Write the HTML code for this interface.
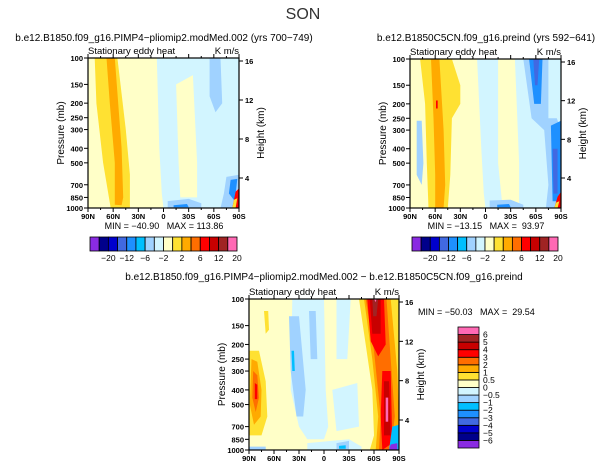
<!DOCTYPE html>
<html><head><meta charset="utf-8"><style>
html,body{margin:0;padding:0;background:#fff}
svg{display:block;font-family:"Liberation Sans",sans-serif}
text{white-space:pre}
</style></head><body>
<svg id="fig" width="607" height="468" viewBox="0 0 607 468" xmlns="http://www.w3.org/2000/svg">
<text x="303" y="19" font-size="16" text-anchor="middle" fill="#333">SON</text>
</svg>
<script>
// ---- data ----
const colors=["#8a2be2","#00008b","#0000cd","#4169e1","#1e90ff","#00bfff","#a0d2ff","#d2f5ff","#ffffc8","#ffe132","#ffaa00","#ff6e00","#ff0000","#c80000","#a02323","#ff69b4"];
const topLevelLabels=["−20","−12","−6","−2","2","6","12","20"];
const diffLevelLabels=["−6","−5","−4","−3","−2","−1","−0.5","0","0.5","1","2","3","4","5","6"];
const pressureTicks=[100,150,200,250,300,400,500,700,850,1000];
const heightTicks=[4,8,12,16];
const latTicks=[90,60,30,0,-30,-60,-90];
const latLabels=["90N","60N","30N","0","30S","60S","90S"];
// shapes: [colorIndex, [[lat,p],...]]
const shapesA=[
 [8,[[90,100],[8,100],[5,400],[2,800],[0,1000],[90,1000]]],
 [8,[[-15,150],[-35,130],[-40,500],[-40,850],[-20,850],[-18,500]]],
 [9,[[82,100],[55,100],[45,300],[40,600],[40,1000],[63,1000],[72,500],[80,200]]],
 [10,[[68,100],[58,100],[50,400],[48,850],[50,960],[58,950],[58,500],[64,200]]],
 [6,[[-55,100],[-68,100],[-70,200],[-62,230],[-55,180]]],
 [6,[[-5,900],[-30,870],[-45,930],[-45,1000],[-5,1000]]],
 [4,[[-12,960],[-28,940],[-30,990],[-12,990]]],
 [6,[[-75,620],[-90,600],[-90,1000],[-68,1000],[-72,800]]],
 [4,[[-80,650],[-88,640],[-85,900],[-78,800]]],
 [12,[[-86,780],[-90,740],[-90,1000],[-82,1000]]],
 [9,[[-84,880],[-88,860],[-86,1000],[-82,1000]]]
];
const shapesB=[
 [8,[[90,100],[10,100],[5,400],[2,800],[0,1000],[90,1000]]],
 [8,[[-15,100],[-35,100],[-40,500],[-40,950],[-20,950],[-15,500]]],
 [9,[[78,100],[40,100],[30,150],[30,200],[40,250],[42,600],[45,1000],[68,1000],[70,500],[72,200]]],
 [10,[[65,100],[55,100],[50,300],[48,700],[50,1000],[60,1000],[60,600],[62,250]]],
 [12,[[59,190],[57,190],[57,215],[59,215]]],
 [6,[[82,260],[76,260],[74,500],[76,700],[82,600]]],
 [6,[[-45,100],[-75,100],[-75,250],[-85,250],[-90,300],[-90,1000],[-72,1000],[-75,700],[-70,300],[-55,250]]],
 [4,[[-52,100],[-68,100],[-66,200],[-58,200]]],
 [3,[[-57,100],[-64,100],[-62,150],[-59,150]]],
 [4,[[-78,280],[-90,260],[-90,900],[-80,900]]],
 [3,[[-80,400],[-86,400],[-86,800],[-81,800]]],
 [6,[[-5,890],[-30,880],[-45,950],[-45,1000],[-5,1000]]],
 [4,[[-14,950],[-28,940],[-30,990],[-14,990]]],
 [12,[[-86,840],[-90,780],[-90,1000],[-82,1000]]],
 [9,[[-84,920],[-88,900],[-86,1000],[-82,1000]]]
];
const shapesC=[
 [7,[[38,100],[0,100],[-2,400],[-5,700],[0,850],[20,850],[30,700],[40,400]]],
 [7,[[-10,400],[-40,360],[-42,700],[-15,750]]],
 [7,[[-15,100],[-32,100],[-28,250],[-15,250]]],
 [6,[[42,130],[30,130],[22,400],[25,600],[33,600],[40,300]]],
 [6,[[18,120],[10,120],[8,250],[16,250]]],
 [5,[[39,220],[36,220],[35,300],[38,300]]],
 [7,[[20,900],[-30,850],[-45,950],[-45,1000],[20,1000]]],
 [6,[[-15,900],[-30,870],[-30,990],[-15,990]]],
 [5,[[-18,940],[-26,930],[-26,980],[-18,980]]],
 [6,[[90,950],[70,950],[70,1000],[90,1000]]],
 [9,[[72,120],[67,120],[66,160],[70,170]]],
 [9,[[90,220],[78,220],[70,350],[68,600],[75,800],[90,800]]],
 [10,[[87,250],[80,260],[75,400],[76,600],[84,680],[89,500]]],
 [11,[[85,300],[80,320],[78,450],[82,560],[86,450]]],
 [12,[[83,360],[80,370],[80,460],[83,460]]],
 [9,[[-42,100],[-90,100],[-90,1000],[-55,1000],[-60,800],[-58,400],[-50,200]]],
 [10,[[-48,100],[-80,100],[-88,300],[-90,600],[-90,1000],[-62,1000],[-65,600],[-58,250]]],
 [11,[[-50,100],[-75,100],[-80,250],[-85,600],[-80,1000],[-66,1000],[-68,600],[-60,220]]],
 [12,[[-52,100],[-72,100],[-74,200],[-65,240],[-56,190]]],
 [12,[[-70,300],[-80,300],[-82,900],[-70,1000],[-68,600]]],
 [13,[[-55,100],[-68,100],[-68,170],[-58,170]]],
 [13,[[-72,350],[-78,350],[-80,800],[-72,800]]],
 [14,[[-58,100],[-65,100],[-63,130],[-59,130]]],
 [15,[[-60,100],[-63,100],[-62,105]]],
 [15,[[-74,450],[-77,450],[-77,650],[-74,650]]],
 [5,[[-82,700],[-90,680],[-90,1000],[-78,1000]]],
 [0,[[-80,920],[-88,900],[-88,1000],[-78,1000]]]
];
// ---- rendering ----
const NS="http://www.w3.org/2000/svg";
const svg=document.getElementById('fig');
function mk(tag,attrs,parent){const e=document.createElementNS(NS,tag);for(const k in attrs)e.setAttribute(k,attrs[k]);(parent||svg).appendChild(e);return e;}
function txt(s,x,y,size,anchor,parent,extra){const t=mk('text',Object.assign({x:x,y:y,'font-size':size,'text-anchor':anchor||'start',fill:'#000'},extra||{}),parent);t.textContent=s;return t;}

function panel(name,L,T,W,H,shapes,bg){
 const g=mk('g',{});
 
 
 const xs=lat=>L+(90-lat)/180*W;
 const ys=p=>T+H-Math.log10(1000/p)*H;
 const zs=z=>T+3+(16-z)/12*((H-30)-3);
 const r=mk('rect',{x:L,y:T,width:W,height:H,fill:colors[bg]},g);
 
 
 const clip='c'+name;
 const cp=mk('clipPath',{id:clip},g);mk('rect',{x:L,y:T,width:W,height:H},cp);
 const sg=mk('g',{'clip-path':'url(#'+clip+')'},g);
 shapes.forEach(s=>{
  const pts=s[1].map(q=>xs(q[0]).toFixed(1)+','+ys(q[1]).toFixed(1)).join(' ');
  const pg=mk('polygon',{points:pts,fill:colors[s[0]],'stroke-linejoin':'round'},sg);
  
  
 });
 mk('rect',{x:L,y:T,width:W,height:H,fill:'none',stroke:'#000','stroke-width':1.2},g);
 pressureTicks.forEach(p=>{const y=ys(p);mk('line',{x1:L-4,x2:L,y1:y,y2:y,stroke:'#000'},g);
  const t=txt(String(p),L-5,y+3,7.5,'end',g,{'font-weight':'bold'});
  });
 heightTicks.forEach(z=>{const y=zs(z);mk('line',{x1:L+W,x2:L+W+4,y1:y,y2:y,stroke:'#000'},g);
  const t=txt(String(z),L+W+6,y+3,7.5,'start',g,{'font-weight':'bold'});
  });
 for(let lat=90;lat>=-90;lat-=15){const x=xs(lat);const major=lat%30===0;
  mk('line',{x1:x,x2:x,y1:T+H,y2:T+H+(major?4:2),stroke:'#000'},g);
  mk('line',{x1:x,x2:x,y1:T,y2:T-(major?4:2),stroke:'#000'},g);}
 latTicks.forEach((lat,i)=>{const t=txt(latLabels[i],xs(lat),T+H+11,7.5,'middle',g,{'font-weight':'bold'});
  });
 const yl=txt('Pressure (mb)',0,0,10,'middle',g,{transform:'translate('+(L-24)+','+(T+H/2)+') rotate(-90)'});
 
 const yr=txt('Height (km)',0,0,10,'middle',g,{transform:'translate('+(L+W+25)+','+(T+H/2)+') rotate(-90)'});
 
 const s1=txt('Stationary eddy heat',L,T-4,9.5,'start',g);
 
 const s2=txt('K m/s',L+W,T-4,9.5,'end',g);
 
}
function hbar(name,L,T,W,H,labels){
 const g=mk('g',{});
 
 
 const n=colors.length,bw=W/n;
 colors.forEach((c,i)=>{const b=mk('rect',{x:L+i*bw,y:T,width:bw,height:H,fill:c,stroke:'#000','stroke-width':0.8},g);
  });
 labels.forEach((s,i)=>{const t=txt(s,L+(2*i+2)*bw,T+H+10,8.5,'middle',g);
  });
}
function vbar(name,L,T,W,H,labels){
 const g=mk('g',{});
 
 
 const n=colors.length,bh=H/n;
 colors.forEach((c,i)=>{const b=mk('rect',{x:L,y:T+(n-1-i)*bh,width:W,height:bh,fill:c,stroke:'#000','stroke-width':0.8},g);
  });
 labels.forEach((s,i)=>{const t=txt(s,L+W+4,T+H-(i+1)*bh+3,8.5,'start',g);
  });
}
panel('panel-pimp4',88,58,151,150,shapesA,7);
panel('panel-preind',410,59,151,149,shapesB,7);
panel('panel-difference',249,299,150,151,shapesC,8);
hbar('colorbar-top-left',90,237,147,14,topLevelLabels);
hbar('colorbar-top-right',412,237,146,14,topLevelLabels);
vbar('colorbar-difference',458,327,21,121,diffLevelLabels);
const T1=txt('b.e12.B1850.f09_g16.PIMP4−pliomip2.modMed.002 (yrs 700−749)',164,41,10,'middle');

const T2=txt('b.e12.B1850C5CN.f09_g16.preind (yrs 592−641)',486,41,10,'middle');

const T3=txt('b.e12.B1850.f09_g16.PIMP4−pliomip2.modMed.002 − b.e12.B1850C5CN.f09_g16.preind',324,280,10,'middle');

const M1=txt('MIN = −40.90   MAX = 113.86',164,229,9,'middle');

const M2=txt('MIN = −13.15   MAX =  93.97',486,229,9,'middle');

const M3=txt('MIN = −50.03   MAX =  29.54',418,315,9,'start');

</script>
</body></html>
